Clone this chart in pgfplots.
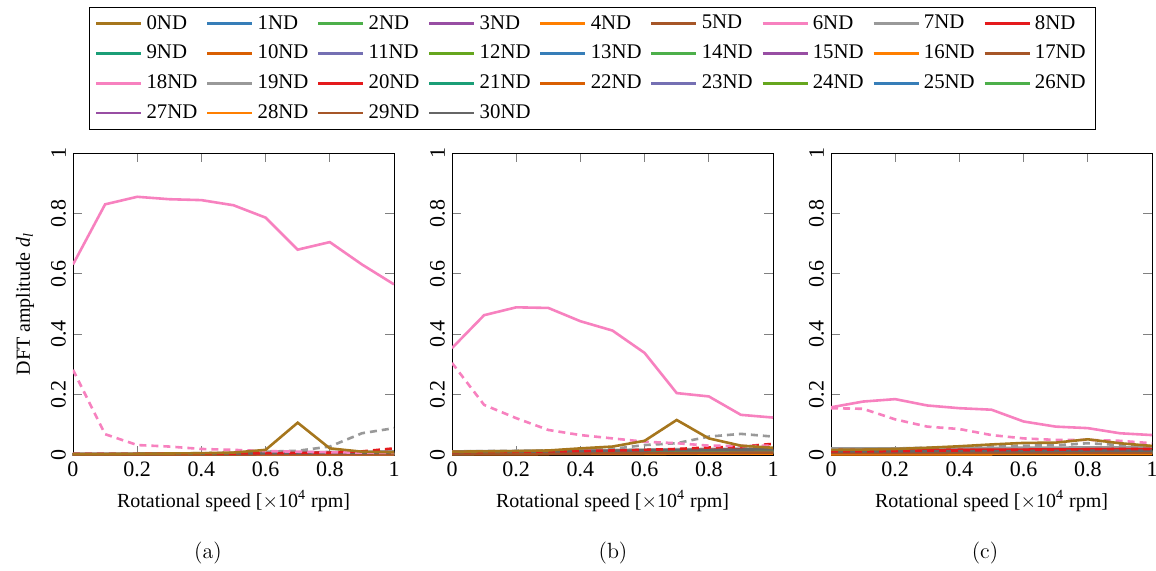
\documentclass[border=0pt]{standalone}
\usepackage{fontspec}
\newfontfamily\tms{Liberation Serif}
\usepackage{pgfplots}
\pgfplotsset{compat=1.18}
\usepackage{pgfplotstable}

\definecolor{c0}{HTML}{A6761D}
\definecolor{c1}{HTML}{377EB8}
\definecolor{c2}{HTML}{4DAF4A}
\definecolor{c3}{HTML}{984EA3}
\definecolor{c4}{HTML}{FF7F00}
\definecolor{c5}{HTML}{A65628}
\definecolor{c6}{HTML}{F781BF}
\definecolor{c7}{HTML}{999999}
\definecolor{c8}{HTML}{E41A1C}
\definecolor{c9}{HTML}{1B9E77}
\definecolor{c10}{HTML}{D95F02}
\definecolor{c11}{HTML}{7570B3}
\definecolor{c12}{HTML}{66A61E}
\colorlet{c13}{c1}\colorlet{c14}{c2}\colorlet{c15}{c3}\colorlet{c16}{c4}
\colorlet{c17}{c5}\colorlet{c18}{c6}\colorlet{c19}{c7}\colorlet{c20}{c8}
\colorlet{c21}{c9}\colorlet{c22}{c10}\colorlet{c23}{c11}\colorlet{c24}{c12}
\colorlet{c25}{c1}\colorlet{c26}{c2}\colorlet{c27}{c3}\colorlet{c28}{c4}
\colorlet{c29}{c5}
\definecolor{c30}{HTML}{666666}

% main series: 0ND, 6ND (solid pink), 18ND (dashed pink), 19ND (dashed gray), 20ND (dashed red)
\pgfplotstableread{
x   s0    s6    s18   s19   s20
0.0 0.003 0.631 0.282 0.004 0.004
0.1 0.003 0.830 0.069 0.004 0.004
0.2 0.004 0.855 0.033 0.005 0.004
0.3 0.005 0.847 0.028 0.005 0.005
0.4 0.006 0.844 0.020 0.006 0.005
0.5 0.008 0.827 0.017 0.008 0.005
0.6 0.017 0.786 0.013 0.011 0.006
0.7 0.107 0.680 0.011 0.014 0.007
0.8 0.022 0.705 0.009 0.028 0.008
0.9 0.011 0.631 0.008 0.072 0.012
1.0 0.009 0.565 0.007 0.089 0.022
}\mainA
\pgfplotstableread{
x   s0    s6    s18   s19   s20
0.0 0.011 0.354 0.305 0.012 0.010
0.1 0.012 0.463 0.166 0.013 0.010
0.2 0.013 0.489 0.122 0.014 0.011
0.3 0.015 0.487 0.083 0.015 0.012
0.4 0.022 0.443 0.066 0.017 0.013
0.5 0.028 0.412 0.055 0.020 0.015
0.6 0.047 0.338 0.044 0.033 0.017
0.7 0.116 0.205 0.039 0.039 0.020
0.8 0.055 0.194 0.031 0.061 0.025
0.9 0.031 0.133 0.030 0.070 0.028
1.0 0.024 0.124 0.031 0.061 0.037
}\mainB
\pgfplotstableread{
x   s0    s6    s18   s19   s20
0.0 0.017 0.158 0.155 0.020 0.012
0.1 0.018 0.177 0.153 0.021 0.012
0.2 0.020 0.185 0.118 0.022 0.013
0.3 0.024 0.164 0.094 0.024 0.014
0.4 0.029 0.155 0.086 0.026 0.015
0.5 0.035 0.150 0.066 0.028 0.016
0.6 0.040 0.111 0.055 0.031 0.017
0.7 0.041 0.094 0.050 0.032 0.018
0.8 0.052 0.089 0.050 0.039 0.019
0.9 0.039 0.072 0.047 0.033 0.020
1.0 0.030 0.066 0.039 0.030 0.020
}\mainC

% low series
\pgfplotstableread{
x s1 s2 s3 s4 s5 s7 s8 s9 s10 s11 s12 s13 s14 s15 s16 s17 s21 s22 s23 s24 s25 s26 s27 s28 s29 s30
0   .002 .002 .001 .003 .002 .004 .003 .002 .002 .001 .002 .001 .002 .001 .002 .001 .001 .002 .001 .002 .001 .001 .001 .001 .001 .004
0.2 .002 .002 .002 .003 .002 .004 .003 .002 .002 .002 .002 .001 .002 .001 .002 .001 .001 .002 .001 .002 .001 .001 .001 .001 .001 .004
0.4 .003 .003 .002 .004 .003 .005 .004 .003 .003 .002 .003 .002 .002 .002 .002 .002 .002 .002 .002 .002 .002 .001 .001 .002 .001 .005
0.6 .003 .003 .002 .004 .003 .007 .005 .003 .003 .002 .003 .002 .003 .002 .003 .002 .002 .003 .002 .002 .002 .002 .002 .002 .002 .006
0.8 .004 .004 .003 .005 .004 .010 .006 .004 .004 .003 .004 .003 .003 .002 .003 .002 .003 .003 .002 .003 .002 .002 .002 .002 .002 .007
1   .005 .004 .003 .006 .005 .012 .008 .004 .005 .003 .004 .003 .004 .003 .003 .002 .003 .004 .003 .003 .002 .002 .002 .002 .002 .008
}\lowA
\pgfplotstableread{
x s1 s2 s3 s4 s5 s7 s8 s9 s10 s11 s12 s13 s14 s15 s16 s17 s21 s22 s23 s24 s25 s26 s27 s28 s29 s30
0   .008 .007 .006 .004 .007 .012 .009 .006 .005 .006 .007 .005 .006 .005 .004 .005 .004 .005 .005 .006 .004 .005 .004 .003 .004 .010
0.2 .009 .008 .007 .004 .008 .013 .010 .007 .005 .007 .008 .006 .007 .005 .004 .006 .005 .005 .006 .006 .005 .005 .004 .003 .005 .011
0.4 .010 .009 .008 .005 .009 .015 .012 .008 .006 .008 .009 .007 .008 .006 .005 .007 .006 .006 .007 .007 .005 .006 .005 .004 .005 .013
0.6 .012 .011 .010 .006 .011 .018 .014 .010 .007 .010 .011 .008 .009 .007 .005 .008 .007 .007 .008 .008 .006 .007 .005 .004 .006 .015
0.8 .014 .013 .012 .007 .013 .020 .017 .012 .008 .012 .013 .010 .011 .009 .006 .010 .008 .008 .010 .010 .007 .008 .006 .005 .007 .017
1   .016 .015 .014 .008 .015 .022 .020 .014 .009 .013 .015 .011 .012 .010 .006 .011 .009 .009 .011 .011 .008 .009 .007 .005 .008 .019
}\lowB
\pgfplotstableread{
x s1 s2 s3 s4 s5 s7 s8 s9 s10 s11 s12 s13 s14 s15 s16 s17 s21 s22 s23 s24 s25 s26 s27 s28 s29 s30
0   .010 .009 .008 .003 .011 .022 .017 .008 .006 .009 .010 .007 .008 .006 .003 .007 .006 .005 .007 .008 .005 .006 .005 .003 .006 .012
0.2 .010 .009 .008 .003 .011 .022 .017 .008 .006 .009 .010 .007 .008 .006 .003 .007 .006 .005 .007 .008 .005 .006 .005 .003 .006 .012
0.4 .011 .010 .009 .003 .012 .023 .018 .009 .006 .010 .011 .008 .009 .007 .003 .008 .007 .006 .008 .009 .006 .007 .005 .003 .007 .013
0.6 .011 .010 .009 .004 .012 .024 .018 .009 .007 .010 .011 .008 .009 .007 .004 .008 .007 .006 .008 .009 .006 .007 .006 .004 .007 .013
0.8 .012 .011 .010 .004 .013 .025 .019 .010 .007 .011 .012 .009 .010 .008 .004 .009 .008 .007 .009 .010 .007 .008 .006 .004 .008 .014
1   .012 .011 .010 .004 .013 .025 .019 .010 .007 .011 .012 .009 .010 .008 .004 .009 .008 .007 .009 .010 .007 .008 .006 .004 .008 .014
}\lowC

\pgfplotsset{
  myax/.style={
    scale only axis, width=160.5pt, height=151pt,
    xmin=0, xmax=1, ymin=0, ymax=1,
    xtick={0,0.2,0.4,0.6,0.8,1}, ytick={0,0.2,0.4,0.6,0.8,1},
    tick align=inside, major tick style={gray, thin},
    axis line style={black, thin},
    /pgf/number format/assume math mode=true,
    ticklabel style={font=\tms\fontsize{11}{13}\selectfont},
    yticklabel style={rotate=90, anchor=south},
    label style={font=\tms\fontsize{10}{12}\selectfont},
    xlabel={Rotational speed [$\times$10\textsuperscript{4} rpm]},
    every axis plot/.append style={line width=1.3pt},
  },
  dsh/.style={dash pattern=on 3.5pt off 2.5pt},
}

\newcommand\drawpanel[2]{%
  \pgfplotsinvokeforeach{1,2,3,4,5,7,8,9,10,11,12,13,14,15,16,17,21,22,23,24,25,26,27,28,29,30}{%
    \addplot[c##1] table[x=x, y=s##1] {#2};}
  \addplot[c19, dsh] table[x=x, y=s19] {#1};
  \addplot[c20, dsh] table[x=x, y=s20] {#1};
  \addplot[c18, dsh] table[x=x, y=s18] {#1};
  \addplot[c0] table[x=x, y=s0] {#1};
  \addplot[c6] table[x=x, y=s6] {#1};
}

\begin{document}
\begin{tikzpicture}
\path[use as bounding box] (0pt,0pt) rectangle (578pt,285pt);
\begin{axis}[myax, at={(36.5pt,57.5pt)}, anchor=south west,
  ylabel={DFT amplitude \textit{d}\textsubscript{\textit{l}}},
  every axis y label/.style={at={(axis description cs:-0.1495,0.5)}, rotate=90, anchor=center,
    font=\tms\fontsize{10}{12}\selectfont},
  legend columns=9,
  legend cell align=left,
  legend image code/.code={\draw[#1] (0pt,0pt) -- (22.5pt,0pt);},
  legend style={at={(1.618,1.484)}, anchor=north, draw=black, thin,
    font=\tms\fontsize{10.4}{12}\selectfont,
    row sep=2.5pt, column sep=0pt,
    /tikz/every even column/.append style={column sep=2.3pt}},
]
\pgfplotsinvokeforeach{0,...,30}{\addlegendimage{c#1, line width=1.3pt}\addlegendentry{#1ND}}
\drawpanel{\mainA}{\lowA}
\end{axis}
\begin{axis}[myax, at={(226pt,57.5pt)}, anchor=south west]
\drawpanel{\mainB}{\lowB}
\end{axis}
\begin{axis}[myax, at={(415.5pt,57.5pt)}, anchor=south west]
\drawpanel{\mainC}{\lowC}
\end{axis}
\node[font=\fontsize{11}{13}\selectfont] at (104pt,8.5pt) {(a)};
\node[font=\fontsize{11}{13}\selectfont] at (306.5pt,8.5pt) {(b)};
\node[font=\fontsize{11}{13}\selectfont] at (492.5pt,8.5pt) {(c)};
\end{tikzpicture}
\end{document}
